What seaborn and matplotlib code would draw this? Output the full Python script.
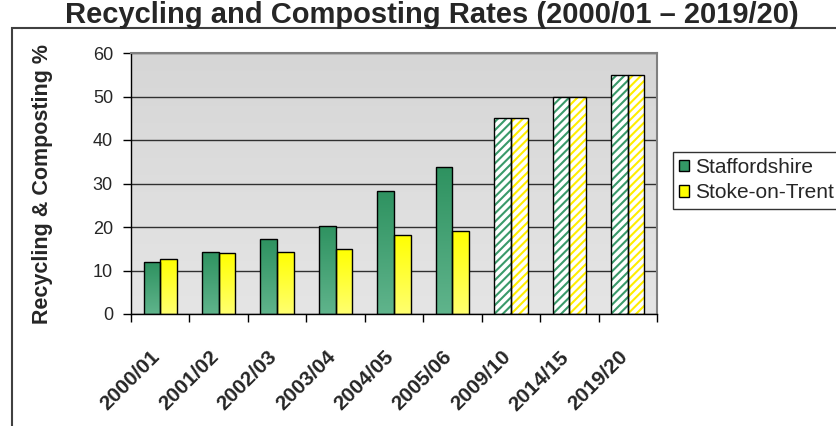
import numpy as np
import pandas as pd
import seaborn as sns
import matplotlib.pyplot as plt
from matplotlib.patches import Rectangle, Patch
from matplotlib.colors import LinearSegmentedColormap
from matplotlib.transforms import ScaledTranslation

# data
years = ['2000/01', '2001/02', '2002/03', '2003/04', '2004/05',
         '2005/06', '2009/10', '2014/15', '2019/20']
staffordshire = [11.9, 14.3, 17.2, 20.3, 28.3, 33.7, 45, 50, 55]
stoke = [12.7, 14.0, 14.3, 15.0, 18.2, 19.1, 45, 50, 55]
areas = ['Staffordshire', 'Stoke-on-Trent']
n_target = 3  # last three years are targets (hatched)

df = pd.DataFrame({
    'Year': years * 2,
    'Rate': staffordshire + stoke,
    'Area': [areas[0]] * len(years) + [areas[1]] * len(years),
})

sns.set_style('white')
plt.rcParams['font.family'] = ['Liberation Sans', 'DejaVu Sans']
plt.rcParams['hatch.linewidth'] = 1.5

fig = plt.figure(figsize=(8.36, 4.26), dpi=100)
ax = fig.add_axes([131 / 836, 1 - 314 / 426, 526 / 836, 261 / 426])

sns.barplot(data=df, x='Year', y='Rate', hue='Area', palette=['#339966', '#ffff00'],
            width=0.57, edgecolor='black', linewidth=1, legend=False, ax=ax, zorder=3)

# gradients for bars
green_cmap = LinearSegmentedColormap.from_list('g', ['#60b48c', '#2e9260'])
yellow_cmap = LinearSegmentedColormap.from_list('y', ['#ffff70', '#ffff00'])
hatch_cols = ['#3a9a6a', '#ffee00']
grad = np.linspace(0, 1, 256).reshape(-1, 1)

for ci, cont in enumerate(ax.containers):
    cmap = [green_cmap, yellow_cmap][ci]
    for i, bar in enumerate(cont):
        x0, y0 = bar.get_x(), bar.get_y()
        w, h = bar.get_width(), bar.get_height()
        bar.set_facecolor('none')
        if i >= len(years) - n_target:
            r = Rectangle((x0, y0), w, h, facecolor='white', edgecolor=hatch_cols[ci],
                          hatch='////', linewidth=0, zorder=2)
            ax.add_patch(r)
        else:
            im = ax.imshow(grad, cmap=cmap, origin='lower', aspect='auto',
                           extent=[x0, x0 + w, y0, y0 + h], zorder=2)
            im.set_clip_path(bar)

# plot background gradient
bg = LinearSegmentedColormap.from_list('bg', ['#e5e5e5', '#d6d6d6'])
ax.imshow(grad, cmap=bg, origin='lower', aspect='auto', extent=[0, 1, 0, 1],
          transform=ax.transAxes, zorder=0)

ax.set_xlim(-0.5, len(years) - 0.5)
ax.set_ylim(0, 60)
ax.set_yticks(range(0, 61, 10))
ax.yaxis.grid(True, color='#303030', linewidth=1)
ax.set_axisbelow(True)

for s in ['top', 'right']:
    ax.spines[s].set_color('#808080')
    ax.spines[s].set_linewidth(1.5)
for s in ['left', 'bottom']:
    ax.spines[s].set_color('black')
    ax.spines[s].set_linewidth(1)

ax.set_xticks(np.arange(-0.5, len(years), 1), minor=True)
ax.tick_params(axis='x', which='minor', length=6, width=1, color='black', direction='out', bottom=True)
ax.tick_params(axis='x', which='major', length=0, pad=24)
ax.tick_params(axis='y', length=6, width=1, color='black', direction='out', left=True,
               labelsize=13, pad=7)
ax.set_xticks(range(len(years)))
ax.set_xticklabels(years, rotation=45, ha='right', va='top', rotation_mode='anchor',
                   fontsize=15, fontweight='bold')
shift = ScaledTranslation(-10 / 100, 0, fig.dpi_scale_trans)
for lab in ax.get_xticklabels():
    lab.set_transform(lab.get_transform() + shift)

ax.set_xlabel('')
ax.set_ylabel('Recycling & Composting %', fontsize=15.5, fontweight='bold')
ax.yaxis.set_label_coords(-0.148, 0.5)

# legend, partly cut off at the right like the reference
handles = [Patch(facecolor='#339966', edgecolor='black', label=areas[0]),
           Patch(facecolor='#ffff00', edgecolor='black', label=areas[1])]
leg = fig.legend(handles=handles, loc='upper left', bbox_to_anchor=(673 / 836, 1 - 152 / 426),
                 bbox_transform=fig.transFigure, frameon=True, fancybox=False, fontsize=15,
                 borderaxespad=0, handlelength=0.45, handleheight=0.45, handletextpad=0.3,
                 borderpad=0.3, labelspacing=0.3)
leg.get_frame().set_edgecolor('black')
leg.get_frame().set_linewidth(1)

# outer chart frame, cut off at right and bottom
fig.patches.append(Rectangle((12 / 836, -0.1), 1.2, 1.1 - 28 / 426, transform=fig.transFigure,
                             fill=False, edgecolor='#404040', linewidth=1.5))

fig.text(432 / 836, 1 - 23 / 426, 'Recycling and Composting Rates (2000/01 \u2013 2019/20)',
         ha='center', va='baseline', fontsize=21, fontweight='bold')

fig.savefig('out.png', dpi=100)
